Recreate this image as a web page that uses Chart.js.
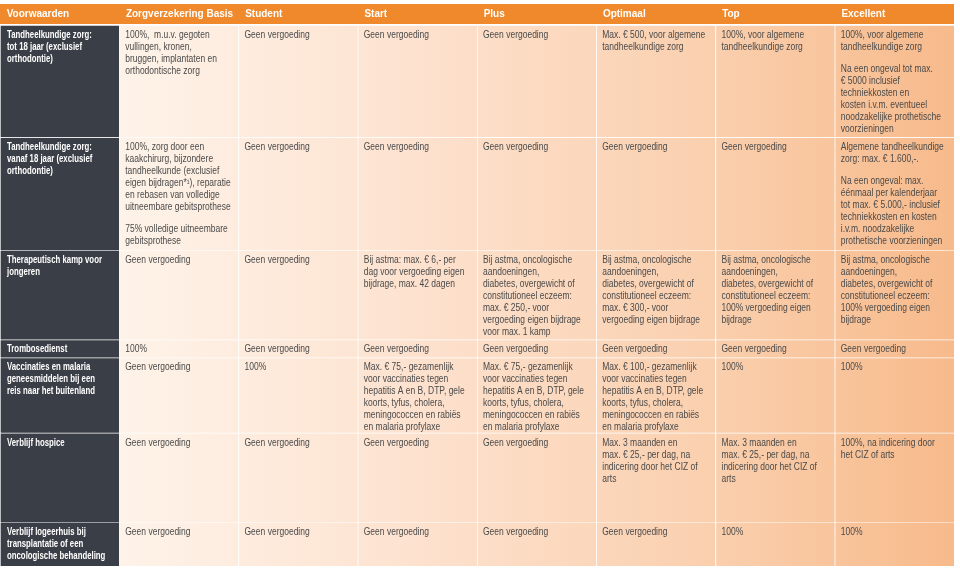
<!DOCTYPE html>
<html>
<head>
<meta charset="utf-8">
<script src="https://cdn.jsdelivr.net/npm/chart.js@4.4.1/dist/chart.umd.min.js"></script>
<style>
  html, body { margin: 0; padding: 0; background: #ffffff; }
  canvas { display: block; }
</style>
</head>
<body>
<canvas id="tabel" width="960" height="571"></canvas>
<script>
// kolomkoppen (x-as)
const columns = ['Voorwaarden', 'Zorgverzekering Basis', 'Student', 'Start', 'Plus', 'Optimaal', 'Top', 'Excellent'];

// eerste kolom: voorwaarden
const rowLabels = [
  'Tandheelkundige zorg:\ntot 18 jaar (exclusief\northodontie)',
  'Tandheelkundige zorg:\nvanaf 18 jaar (exclusief\northodontie)',
  'Therapeutisch kamp voor\njongeren',
  'Trombosedienst',
  'Vaccinaties en malaria\ngeneesmiddelen bij een\nreis naar het buitenland',
  'Verblijf hospice',
  'Verblijf logeerhuis bij\ntransplantatie of een\noncologische behandeling'
];

const basis = [
  '100%,  m.u.v. gegoten\nvullingen, kronen,\nbruggen, implantaten en\northodontische zorg',
  '100%, zorg door een\nkaakchirurg, bijzondere\ntandheelkunde (exclusief\neigen bijdragen*¹), reparatie\nen rebasen van volledige\nuitneembare gebitsprothese\n\n75% volledige uitneembare\ngebitsprothese',
  'Geen vergoeding',
  '100%',
  'Geen vergoeding',
  'Geen vergoeding',
  'Geen vergoeding'
];

const student = [
  'Geen vergoeding',
  'Geen vergoeding',
  'Geen vergoeding',
  'Geen vergoeding',
  '100%',
  'Geen vergoeding',
  'Geen vergoeding'
];

const start = [
  'Geen vergoeding',
  'Geen vergoeding',
  'Bij astma: max. € 6,- per\ndag voor vergoeding eigen\nbijdrage, max. 42 dagen',
  'Geen vergoeding',
  'Max. € 75,- gezamenlijk\nvoor vaccinaties tegen\nhepatitis A en B, DTP, gele\nkoorts, tyfus, cholera,\nmeningococcen en rabiës\nen malaria profylaxe',
  'Geen vergoeding',
  'Geen vergoeding'
];

const plus = [
  'Geen vergoeding',
  'Geen vergoeding',
  'Bij astma, oncologische\naandoeningen,\ndiabetes, overgewicht of\nconstitutioneel eczeem:\nmax. € 250,- voor\nvergoeding eigen bijdrage\nvoor max. 1 kamp',
  'Geen vergoeding',
  'Max. € 75,- gezamenlijk\nvoor vaccinaties tegen\nhepatitis A en B, DTP, gele\nkoorts, tyfus, cholera,\nmeningococcen en rabiës\nen malaria profylaxe',
  'Geen vergoeding',
  'Geen vergoeding'
];

const optimaal = [
  'Max. € 500, voor algemene\ntandheelkundige zorg',
  'Geen vergoeding',
  'Bij astma, oncologische\naandoeningen,\ndiabetes, overgewicht of\nconstitutioneel eczeem:\nmax. € 300,- voor\nvergoeding eigen bijdrage',
  'Geen vergoeding',
  'Max. € 100,- gezamenlijk\nvoor vaccinaties tegen\nhepatitis A en B, DTP, gele\nkoorts, tyfus, cholera,\nmeningococcen en rabiës\nen malaria profylaxe',
  'Max. 3 maanden en\nmax. € 25,- per dag, na\nindicering door het CIZ of\narts',
  'Geen vergoeding'
];

const topPlan = [
  '100%, voor algemene\ntandheelkundige zorg',
  'Geen vergoeding',
  'Bij astma, oncologische\naandoeningen,\ndiabetes, overgewicht of\nconstitutioneel eczeem:\n100% vergoeding eigen\nbijdrage',
  'Geen vergoeding',
  '100%',
  'Max. 3 maanden en\nmax. € 25,- per dag, na\nindicering door het CIZ of\narts',
  '100%'
];

const excellent = [
  '100%, voor algemene\ntandheelkundige zorg\n\nNa een ongeval tot max.\n€ 5000 inclusief\ntechniekkosten en\nkosten i.v.m. eventueel\nnoodzakelijke prothetische\nvoorzieningen',
  'Algemene tandheelkundige\nzorg: max. € 1.600,-.\n\nNa een ongeval: max.\néénmaal per kalenderjaar\ntot max. € 5.000,- inclusief\ntechniekkosten en kosten\ni.v.m. noodzakelijke\nprothetische voorzieningen',
  'Bij astma, oncologische\naandoeningen,\ndiabetes, overgewicht of\nconstitutioneel eczeem:\n100% vergoeding eigen\nbijdrage',
  'Geen vergoeding',
  '100%',
  '100%, na indicering door\nhet CIZ of arts',
  '100%'
];

const tableCols = [rowLabels, basis, student, start, plus, optimaal, topPlan, excellent];

// opmaak
const ROW_H = [112, 113, 89, 18, 75, 89, 44];
const ORANGE = '#f0892b';
const DARK = '#3a3e46';
const TEXT = '#4a4a4a';
const BODY_FONT = '10px "Liberation Sans", Arial, sans-serif';
const BOLD_FONT = 'bold 10px "Liberation Sans", Arial, sans-serif';
const BODY_SQUEEZE = 0.85;  // smalle letter zoals in het origineel
const BOLD_SQUEEZE = 0.78;

const rowStarts = [];
ROW_H.reduce((acc, h) => { rowStarts.push(acc); return acc + h; }, 0);
const totalH = ROW_H.reduce((a, b) => a + b, 0);

let peachGrad = null;
function cellFill(context) {
  if (context.dataIndex === 0) return DARK;
  const chart = context.chart;
  const area = chart.chartArea;
  if (!area) return '#fde3cf';
  if (!peachGrad) {
    const g = chart.ctx.createLinearGradient(area.left + area.width / 8, 0, area.right, 0);
    g.addColorStop(0, '#fef3e9');
    g.addColorStop(0.35, '#fde2cf');
    g.addColorStop(0.7, '#fad0af');
    g.addColorStop(1, '#f7ba8b');
    peachGrad = g;
  }
  return peachGrad;
}

// oranje kopbalk achter de x-as
const headerBand = {
  id: 'headerBand',
  beforeDraw(chart) {
    const xs = chart.scales.x;
    const ctx = chart.ctx;
    ctx.save();
    ctx.fillStyle = ORANGE;
    ctx.fillRect(xs.left, xs.top, xs.right - xs.left, xs.bottom - xs.top - 1);
    ctx.restore();
  }
};

// tekst in de cellen
const cellText = {
  id: 'cellText',
  afterDatasetsDraw(chart) {
    const ctx = chart.ctx;
    chart.data.datasets.forEach((ds, r) => {
      const meta = chart.getDatasetMeta(r);
      meta.data.forEach((bar, c) => {
        const left = bar.x - bar.width / 2;
        const topY = Math.min(bar.y, bar.base);
        const first = c === 0;
        let y = topY + 10;
        tableCols[c][r].split('\n').forEach(line => {
          if (line === '') { y += 10; return; }
          ctx.save();
          ctx.textBaseline = 'middle';
          ctx.textAlign = 'left';
          ctx.fillStyle = first ? '#ffffff' : TEXT;
          ctx.font = first ? BOLD_FONT : BODY_FONT;
          ctx.translate(left + (first ? 7 : 6), y);
          ctx.scale(first ? BOLD_SQUEEZE : BODY_SQUEEZE, 1);
          ctx.fillText(line, 0, 0);
          ctx.restore();
          y += 12;
        });
      });
    });
  }
};

const datasets = ROW_H.map((h, r) => ({
  label: rowLabels[r],
  data: columns.map(() => [rowStarts[r], rowStarts[r] + h]),
  backgroundColor: cellFill,
  borderColor: 'rgba(255, 255, 255, 0.75)',
  borderWidth: { top: 1, left: 1, right: 0, bottom: 0 },
  borderSkipped: false,
  grouped: false,
  barPercentage: 1,
  categoryPercentage: 1
}));

const ctx = document.getElementById('tabel').getContext('2d');
new Chart(ctx, {
  type: 'bar',
  data: { labels: columns, datasets: datasets },
  options: {
    responsive: false,
    animation: false,
    devicePixelRatio: 1,
    layout: { padding: { top: 4, left: 0, right: 6, bottom: 5 } },
    plugins: {
      legend: { display: false },
      tooltip: { enabled: false }
    },
    scales: {
      x: {
        type: 'category',
        position: 'top',
        grid: { display: false, drawTicks: false },
        border: { display: false },
        afterFit: (scale) => { scale.height = 21; },
        ticks: {
          color: '#ffffff',
          font: { family: '"Liberation Sans", Arial, sans-serif', weight: 'bold', size: 10 },
          align: 'start',
          labelOffset: -53,
          padding: 5,
          autoSkip: false,
          maxRotation: 0
        }
      },
      y: {
        type: 'linear',
        display: false,
        reverse: true,
        min: 0,
        max: totalH
      }
    }
  },
  plugins: [headerBand, cellText]
});
</script>
</body>
</html>
